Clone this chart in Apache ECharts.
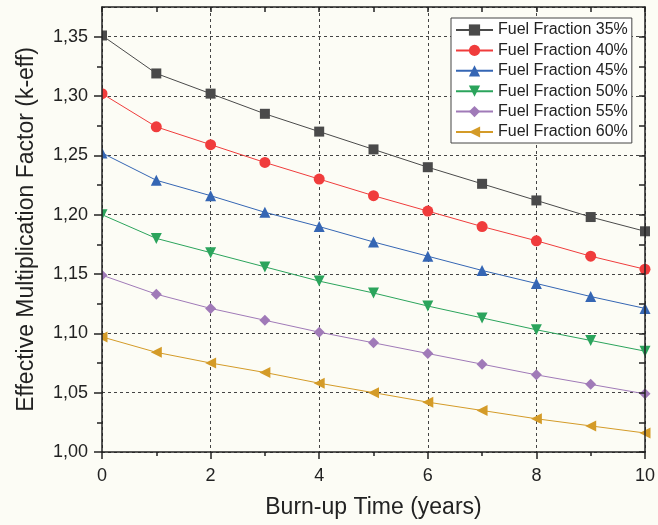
<!DOCTYPE html>
<html>
<head>
<meta charset="utf-8">
<script src="https://cdn.jsdelivr.net/npm/echarts@6/dist/echarts.min.js"></script>
<style>html,body{margin:0;padding:0;background:#fcfcf5;}#c{width:658px;height:525px;}</style>
</head>
<body>
<div id="c"></div>
<script>
var years = [0, 1, 2, 3, 4, 5, 6, 7, 8, 9, 10];
var seriesNames = ['Fuel Fraction 35%', 'Fuel Fraction 40%', 'Fuel Fraction 45%', 'Fuel Fraction 50%', 'Fuel Fraction 55%', 'Fuel Fraction 60%'];
var ff35 = [1.351, 1.319, 1.302, 1.285, 1.270, 1.255, 1.240, 1.226, 1.212, 1.198, 1.186];
var ff40 = [1.302, 1.274, 1.259, 1.244, 1.230, 1.216, 1.203, 1.190, 1.178, 1.165, 1.154];
var ff45 = [1.252, 1.229, 1.216, 1.202, 1.190, 1.177, 1.165, 1.153, 1.142, 1.131, 1.121];
var ff50 = [1.200, 1.180, 1.168, 1.156, 1.144, 1.134, 1.123, 1.113, 1.103, 1.094, 1.085];
var ff55 = [1.149, 1.133, 1.121, 1.111, 1.101, 1.092, 1.083, 1.074, 1.065, 1.057, 1.049];
var ff60 = [1.097, 1.084, 1.075, 1.067, 1.058, 1.050, 1.042, 1.035, 1.028, 1.022, 1.016];
var yMajorTicks = [1.00, 1.05, 1.10, 1.15, 1.20, 1.25, 1.30, 1.35];
var yMinorTicks = [1.025, 1.075, 1.125, 1.175, 1.225, 1.275, 1.325];
var yAllTicks = [1.00, 1.025, 1.05, 1.075, 1.10, 1.125, 1.15, 1.175, 1.20, 1.225, 1.25, 1.275, 1.30, 1.325, 1.35];

var allValues = [ff35, ff40, ff45, ff50, ff55, ff60];
var colors = ['#4a4a4a', '#f03c3c', '#3566b4', '#2ba45c', '#a07ab8', '#d49b28'];
var symbols = ['rect', 'circle', 'triangle', 'triangle', 'diamond', 'triangle'];
var rotates = [0, 0, 0, 180, 0, 90];
var sizes = [10, 11, 11, 11, 11, 11];

var FONT = '"Liberation Sans", Arial, sans-serif';
var AX = '#222';
var chart = echarts.init(document.getElementById('c'), null, {renderer: 'canvas'});

var series = allValues.map(function (vals, i) {
  return {
    name: seriesNames[i],
    type: 'line',
    xAxisIndex: 0,
    yAxisIndex: 0,
    data: years.map(function (x, j) { return [x, vals[j]]; }),
    symbol: symbols[i],
    symbolRotate: rotates[i],
    symbolSize: sizes[i],
    showAllSymbol: true,
    clip: false,
    z: 2,
    lineStyle: {color: colors[i], width: 1},
    itemStyle: {color: colors[i], opacity: 1},
    emphasis: {disabled: true}
  };
});

var gridLeft = 102, gridRight = 7, gridTop = 7, gridBottom = 73;

chart.setOption({
  animation: false,
  backgroundColor: '#fcfcf5',
  textStyle: {fontFamily: FONT},
  grid: {left: gridLeft, right: gridRight, top: gridTop, bottom: gridBottom, containLabel: false},
  legend: {
    orient: 'vertical',
    left: 451,
    top: 18,
    itemWidth: 37,
    itemHeight: 14,
    itemGap: 4.4,
    padding: [4, 4, 3, 4],
    borderColor: '#444',
    borderWidth: 1,
    backgroundColor: '#ffffff',
    textStyle: {fontSize: 16, color: '#222', fontFamily: FONT},
    data: seriesNames
  },
  xAxis: [
    {
      type: 'value', position: 'bottom', min: 0, max: 10, interval: 2,
      name: 'Burn-up Time (years)', nameLocation: 'middle', nameGap: 44,
      nameTextStyle: {fontSize: 23, color: AX, fontFamily: FONT},
      axisLine: {show: true, onZero: false, lineStyle: {color: AX, width: 1.5}},
      axisTick: {show: true, inside: false, length: 7, lineStyle: {color: AX, width: 1.5}},
      minorTick: {show: true, splitNumber: 2, length: 4, lineStyle: {color: AX, width: 1.5}},
      splitLine: {show: true, lineStyle: {color: '#444', width: 1, type: [3, 3]}},
      axisLabel: {fontSize: 18, color: AX, margin: 15, fontFamily: FONT}
    },
    {
      type: 'value', position: 'top', min: 0, max: 10, interval: 1, z: 10,
      axisLine: {show: true, onZero: false, lineStyle: {color: AX, width: 1.5}},
      axisTick: {show: true, inside: true, length: 5, lineStyle: {color: AX, width: 1.5}},
      splitLine: {show: false},
      axisLabel: {show: false}
    }
  ],
  yAxis: [
    {
      type: 'value', position: 'left', min: 1.0, max: 1.375, interval: 0.05,
      name: 'Effective Multiplication Factor (k-eff)', nameLocation: 'middle', nameGap: 64,
      nameTextStyle: {fontSize: 23, color: AX, fontFamily: FONT},
      axisLine: {show: false},
      axisTick: {show: false},
      splitLine: {show: true, lineStyle: {color: '#444', width: 1, type: [3, 3]}},
      axisLabel: {
        fontSize: 18, color: AX, margin: 14, fontFamily: FONT,
        formatter: function (v) {
          var r = Math.round(v * 100) / 100;
          if (Math.abs(r - v) > 1e-6) return '';
          return r.toFixed(2).replace('.', ',');
        }
      }
    },
    {
      type: 'value', position: 'right', min: 1.0, max: 1.375, z: 10,
      axisLine: {show: true, onZero: false, lineStyle: {color: AX, width: 1.5}},
      axisTick: {show: true, inside: true, length: 6, customValues: yAllTicks, lineStyle: {color: AX, width: 1.5}},
      splitLine: {show: false},
      axisLabel: {show: false}
    },
    {
      type: 'value', position: 'left', min: 1.0, max: 1.375, z: 10,
      axisLine: {show: true, onZero: false, lineStyle: {color: AX, width: 1.5}},
      axisTick: {show: true, inside: false, length: 8, customValues: yMajorTicks, lineStyle: {color: AX, width: 1.5}},
      splitLine: {show: false},
      axisLabel: {show: false}
    },
    {
      type: 'value', position: 'left', min: 1.0, max: 1.375, z: 10,
      axisLine: {show: false},
      axisTick: {show: true, inside: false, length: 5, customValues: yMinorTicks, lineStyle: {color: AX, width: 1.5}},
      splitLine: {show: false},
      axisLabel: {show: false}
    }
  ],
  graphic: [
    {type: 'rect', z: 5, silent: true, shape: {x: 94, y: 0, width: gridLeft - 94, height: 445}, style: {fill: '#fcfcf5'}},
    {type: 'rect', z: 5, silent: true, shape: {x: 658 - gridRight, y: 0, width: gridRight + 2, height: 445}, style: {fill: '#fcfcf5'}}
  ],
  series: series
});
</script>
</body>
</html>
